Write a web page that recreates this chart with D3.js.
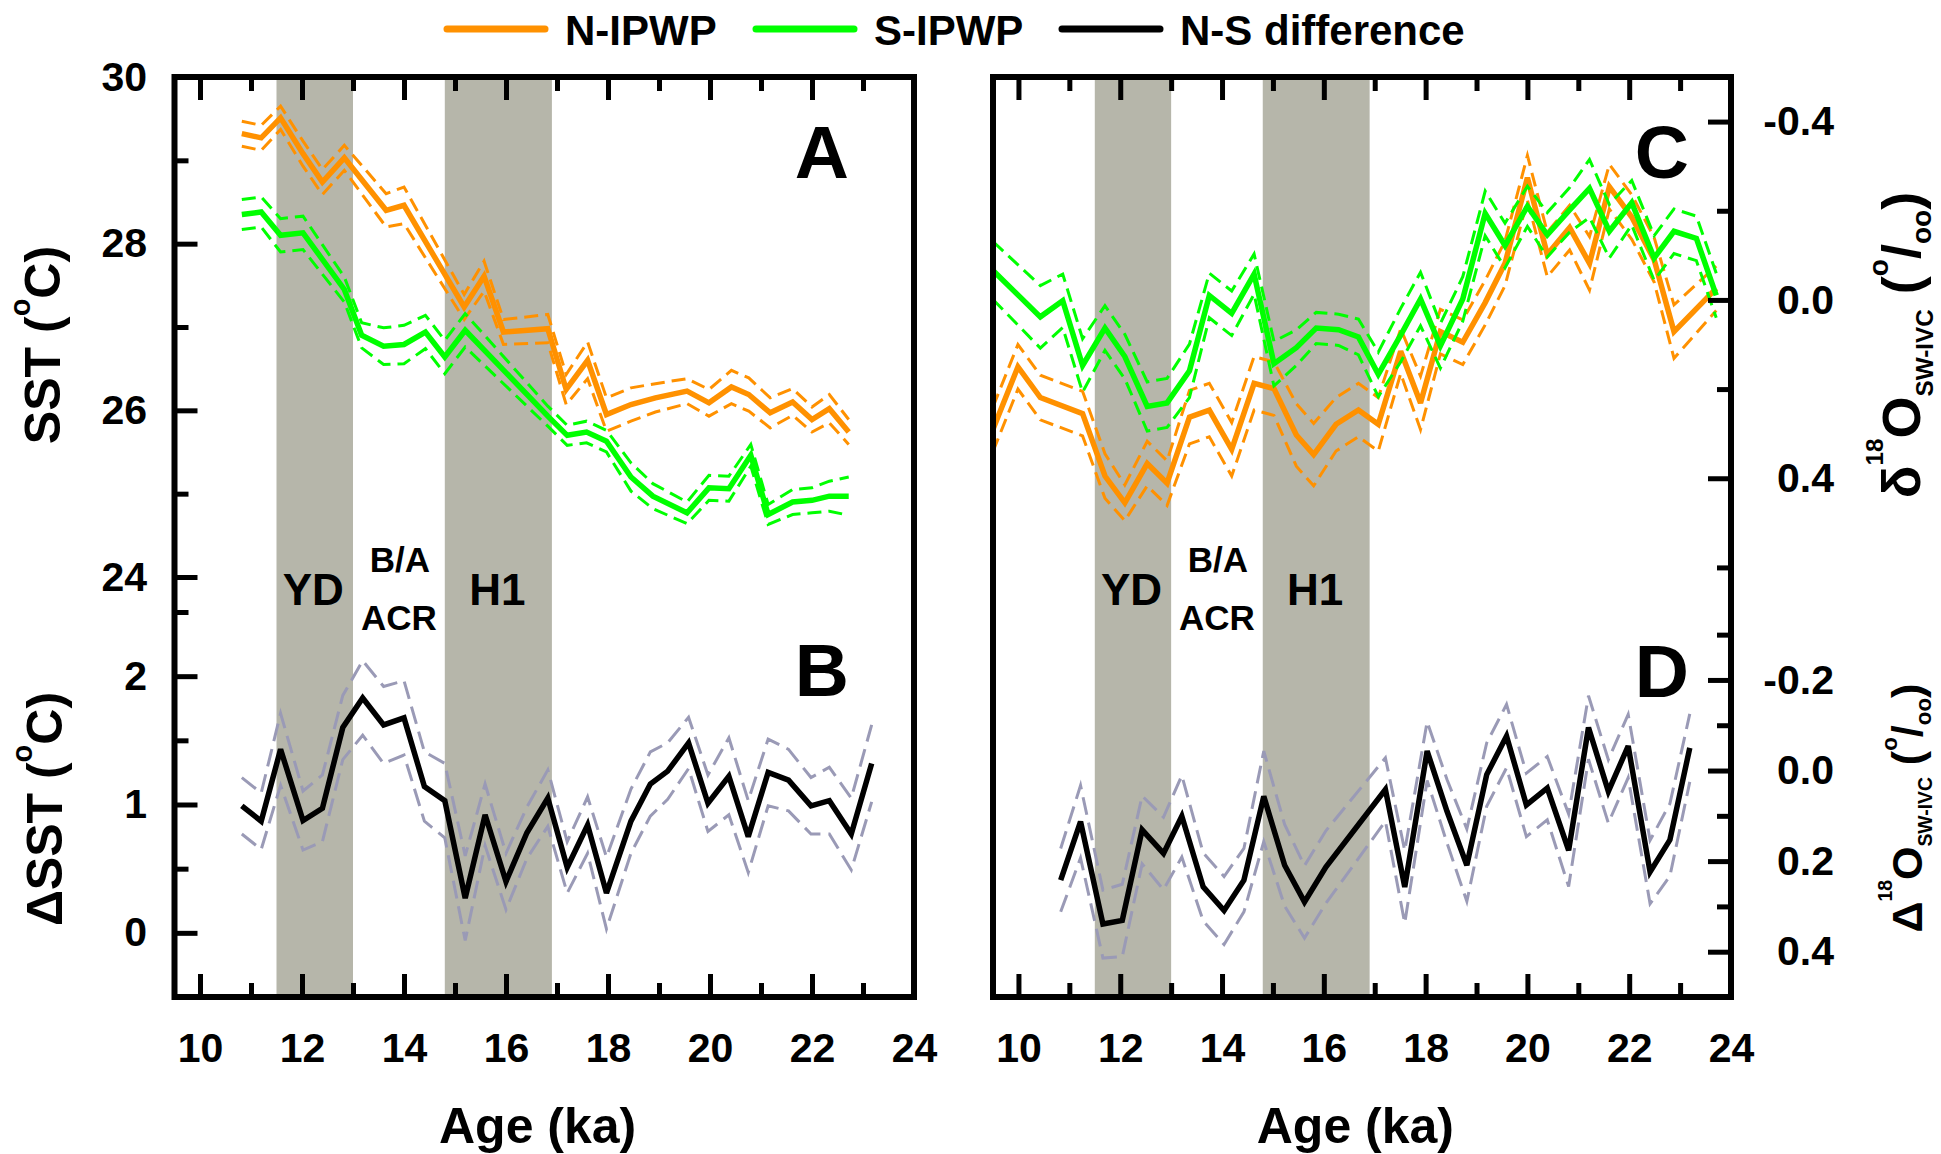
<!DOCTYPE html>
<html>
<head>
<meta charset="utf-8">
<script src="https://cdn.jsdelivr.net/npm/d3@7"></script>
<style>
  body { margin: 0; background: #fff; }
  svg { display: block; }
</style>
</head>
<body>
<svg id="chart" width="1941" height="1154"></svg>
<script>
// ---- values ----

// A: SST (deg C)
const ageSstN = [10.82, 11.20, 11.58, 12.02, 12.40, 12.83, 13.65, 14.00, 15.18, 15.57, 15.95, 16.82, 17.18, 17.60, 17.97, 18.45, 18.93, 19.55, 19.98, 20.42, 20.76, 21.18, 21.62, 22.00, 22.34, 22.72];
const sstN = [29.32, 29.27, 29.51, 29.08, 28.74, 29.03, 28.40, 28.46, 27.24, 27.61, 26.94, 26.98, 26.25, 26.60, 25.95, 26.07, 26.15, 26.23, 26.09, 26.28, 26.19, 25.97, 26.10, 25.89, 26.02, 25.74];
const sstNErr = [0.15, 0.15, 0.14, 0.15, 0.15, 0.15, 0.20, 0.22, 0.15, 0.18, 0.15, 0.17, 0.18, 0.22, 0.20, 0.20, 0.17, 0.15, 0.16, 0.20, 0.20, 0.18, 0.16, 0.15, 0.17, 0.15];

const ageSstS = [10.82, 11.20, 11.58, 12.02, 12.83, 13.17, 13.60, 14.00, 14.42, 14.80, 15.20, 16.82, 17.20, 17.58, 17.97, 18.45, 18.88, 19.55, 19.98, 20.37, 20.80, 21.14, 21.62, 22.00, 22.34, 22.72];
const sstS = [28.35, 28.38, 28.10, 28.13, 27.45, 26.90, 26.77, 26.79, 26.94, 26.64, 26.96, 25.93, 25.70, 25.74, 25.63, 25.20, 24.97, 24.77, 25.07, 25.06, 25.46, 24.75, 24.90, 24.92, 24.97, 24.97];
const sstSErr = [0.18, 0.18, 0.20, 0.20, 0.15, 0.15, 0.22, 0.23, 0.20, 0.20, 0.20, 0.12, 0.12, 0.13, 0.13, 0.17, 0.15, 0.13, 0.15, 0.15, 0.13, 0.12, 0.15, 0.15, 0.18, 0.23];

// B: N-S SST difference
const ageDsst = [10.82, 11.20, 11.58, 12.02, 12.40, 12.80, 13.19, 13.60, 14.00, 14.40, 14.80, 15.20, 15.59, 16.00, 16.41, 16.82, 17.20, 17.60, 17.97, 18.45, 18.83, 19.17, 19.58, 19.96, 20.37, 20.75, 21.14, 21.54, 21.98, 22.34, 22.77, 23.17];
const dsst = [0.99, 0.87, 1.43, 0.875, 0.97, 1.60, 1.83, 1.62, 1.675, 1.14, 1.03, 0.27, 0.92, 0.40, 0.78, 1.05, 0.51, 0.84, 0.31, 0.87, 1.16, 1.26, 1.48, 1.01, 1.22, 0.75, 1.25, 1.19, 0.99, 1.03, 0.77, 1.32];
const dsstErr = [0.22, 0.22, 0.28, 0.23, 0.26, 0.25, 0.29, 0.30, 0.29, 0.27, 0.29, 0.33, 0.24, 0.22, 0.20, 0.22, 0.20, 0.22, 0.28, 0.25, 0.25, 0.22, 0.20, 0.22, 0.30, 0.28, 0.26, 0.24, 0.22, 0.26, 0.28, 0.30];

// C: d18O sw-ivc (permil)
const ageD18N = [9.50, 9.99, 10.43, 11.26, 11.70, 12.09, 12.53, 12.92, 13.36, 13.75, 14.19, 14.63, 15.02, 15.46, 15.80, 16.24, 16.68, 17.07, 17.51, 17.90, 18.29, 18.73, 19.17, 19.56, 20.00, 20.39, 20.83, 21.22, 21.61, 22.05, 22.49, 22.88, 23.71];
const d18N = [0.29, 0.15, 0.219, 0.255, 0.395, 0.455, 0.367, 0.411, 0.263, 0.247, 0.335, 0.187, 0.199, 0.303, 0.347, 0.279, 0.247, 0.279, 0.115, 0.231, 0.071, 0.095, 0.006, -0.082, -0.274, -0.102, -0.162, -0.082, -0.254, -0.186, -0.090, 0.071, -0.026];
const d18NErr = [0.05, 0.05, 0.05, 0.05, 0.05, 0.04, 0.05, 0.05, 0.06, 0.06, 0.06, 0.06, 0.06, 0.07, 0.07, 0.06, 0.06, 0.06, 0.05, 0.06, 0.05, 0.05, 0.05, 0.05, 0.05, 0.05, 0.05, 0.06, 0.05, 0.05, 0.05, 0.06, 0.05];

const ageD18S = [9.50, 10.43, 10.87, 11.26, 11.70, 12.09, 12.53, 12.92, 13.36, 13.75, 14.19, 14.63, 15.02, 15.46, 15.85, 16.29, 16.68, 17.07, 17.51, 17.90, 18.29, 18.73, 19.17, 19.56, 20.00, 20.39, 20.83, 21.22, 21.61, 22.05, 22.49, 22.88, 23.32, 23.71];
const d18S = [-0.066, 0.038, 0.002, 0.147, 0.063, 0.127, 0.239, 0.231, 0.159, -0.010, 0.030, -0.058, 0.143, 0.107, 0.063, 0.067, 0.083, 0.167, 0.079, -0.002, 0.103, -0.002, -0.194, -0.122, -0.210, -0.146, -0.202, -0.250, -0.154, -0.218, -0.094, -0.154, -0.138, -0.010];
const d18SErr = [0.065, 0.07, 0.06, 0.06, 0.05, 0.05, 0.055, 0.055, 0.06, 0.05, 0.05, 0.045, 0.05, 0.04, 0.035, 0.035, 0.04, 0.05, 0.06, 0.06, 0.05, 0.05, 0.05, 0.05, 0.045, 0.05, 0.05, 0.065, 0.06, 0.05, 0.05, 0.05, 0.05, 0.05];

// D: N-S d18O difference
const ageDd18 = [10.83, 11.22, 11.66, 12.04, 12.43, 12.85, 13.21, 13.63, 14.04, 14.43, 14.82, 15.23, 15.62, 16.04, 17.21, 17.59, 18.03, 18.42, 18.81, 19.20, 19.59, 19.98, 20.39, 20.81, 21.20, 21.59, 21.98, 22.41, 22.80, 23.19];
const dd18 = [0.242, 0.113, 0.339, 0.331, 0.131, 0.183, 0.101, 0.257, 0.309, 0.242, 0.057, 0.209, 0.290, 0.213, 0.042, 0.257, -0.043, 0.090, 0.209, 0.009, -0.076, 0.076, 0.039, 0.176, -0.095, 0.046, -0.054, 0.224, 0.153, -0.050];
const dd18Err = [0.07, 0.08, 0.075, 0.08, 0.075, 0.08, 0.09, 0.075, 0.075, 0.07, 0.10, 0.09, 0.08, 0.08, 0.07, 0.08, 0.065, 0.07, 0.08, 0.07, 0.07, 0.07, 0.07, 0.08, 0.07, 0.07, 0.07, 0.07, 0.08, 0.075];

// climate periods (ka)
const periods = [
  { name: "YD", from: 11.5, to: 13.0 },
  { name: "H1", from: 14.8, to: 16.9 },
];

// ticks
const ageTicks = [10, 12, 14, 16, 18, 20, 22, 24];
const ageMinor = [11, 13, 15, 17, 19, 21, 23];
const sstTicks = [24, 26, 28, 30];
const sstMinor = [25, 27, 29];
const dsstTicks = [0, 1, 2];
const dsstMinor = [0.5, 1.5, 2.5];
const d18Ticks = [-0.4, 0, 0.4];
const d18Minor = [-0.2, 0.2, 0.6];
const dd18Ticks = [-0.2, 0, 0.2, 0.4];
const dd18Minor = [-0.3, -0.1, 0.1, 0.3];

const legendItems = ["N-IPWP", "S-IPWP", "N-S difference"];

// ---- style ----
const FONT = '"Liberation Sans", Arial, Helvetica, sans-serif';
const ORANGE = "#ff9100";
const GREEN = "#00ff00";
const ERRGRAY = "#9a9ab6";
const BAND = "#b6b6aa";

const svg = d3.select("#chart").style("font-family", FONT).style("font-weight", "bold");

const frameTop = 77, frameMid = 612, frameBot = 997;
const cols = [
  { x0: 174.5, x1: 914 },
  { x0: 993, x1: 1731 },
];

const xL = d3.scaleLinear().domain([9.5, 24]).range([cols[0].x0, cols[0].x1]);
const xR = d3.scaleLinear().domain([9.5, 24]).range([cols[1].x0, cols[1].x1]);
const yA = d3.scaleLinear().domain([23.58, 30]).range([frameMid, frameTop]);
const yB = d3.scaleLinear().domain([-0.5, 2.5]).range([frameBot, frameMid]);
const yC = d3.scaleLinear().domain([-0.5, 0.7]).range([frameTop, frameMid]);
const yD = d3.scaleLinear().domain([-0.35, 0.5]).range([frameMid, frameBot]);

// shaded periods
[xL, xR].forEach((x) => {
  svg.append("g")
    .selectAll("rect")
    .data(periods)
    .join("rect")
    .attr("x", (d) => x(d.from))
    .attr("width", (d) => x(d.to) - x(d.from))
    .attr("y", frameTop)
    .attr("height", frameBot - frameTop)
    .attr("fill", BAND);
});

function drawSeries(x, y, ages, vals, errs, color, errColor, dash) {
  const rows = ages.map((a, i) => ({ age: a, v: vals[i], e: errs[i] }));
  const g = svg.append("g").attr("fill", "none");
  [-1, 1].forEach((s) => {
    g.append("path")
      .datum(rows)
      .attr("stroke", errColor)
      .attr("stroke-width", 3)
      .attr("stroke-dasharray", dash)
      .attr("d", d3.line().x((d) => x(d.age)).y((d) => y(d.v + s * d.e)));
  });
  g.append("path")
    .datum(rows)
    .attr("stroke", color)
    .attr("stroke-width", 5.5)
    .attr("stroke-linejoin", "miter")
    .attr("stroke-miterlimit", 3)
    .attr("d", d3.line().x((d) => x(d.age)).y((d) => y(d.v)));
}

drawSeries(xL, yA, ageSstN, sstN, sstNErr, ORANGE, ORANGE, "14,7");
drawSeries(xL, yA, ageSstS, sstS, sstSErr, GREEN, GREEN, "14,7");
drawSeries(xL, yB, ageDsst, dsst, dsstErr, "#000", ERRGRAY, "18,8");
drawSeries(xR, yC, ageD18N, d18N, d18NErr, ORANGE, ORANGE, "14,7");
drawSeries(xR, yC, ageD18S, d18S, d18SErr, GREEN, GREEN, "14,7");
drawSeries(xR, yD, ageDd18, dd18, dd18Err, "#000", ERRGRAY, "18,8");

// period labels
[xL, xR].forEach((x) => {
  const g = svg.append("g").attr("text-anchor", "middle").attr("fill", "#000");
  g.append("text").attr("x", x(12.22)).attr("y", 605).style("font-size", "44px").text(periods[0].name);
  g.append("text").attr("x", x(15.83)).attr("y", 605).style("font-size", "44px").text(periods[1].name);
  g.append("text").attr("x", x(13.92)).attr("y", 572).style("font-size", "35px").text("B/A");
  g.append("text").attr("x", x(13.9)).attr("y", 630).style("font-size", "35px").text("ACR");
});

// axes: inward ticks, major and minor
function addAxis(axisFn, scale, values, len, translate, fmt, pad) {
  const ax = axisFn(scale).tickValues(values).tickSize(-len).tickSizeOuter(0)
    .tickPadding(pad || 0).tickFormat(fmt || "");
  const g = svg.append("g").attr("transform", translate).call(ax);
  g.select(".domain").remove();
  g.selectAll(".tick line").attr("stroke", "#000").attr("stroke-width", 5);
  g.selectAll(".tick text")
    .attr("fill", "#000")
    .style("font-size", "41px")
    .style("font-family", FONT)
    .style("font-weight", "bold");
  return g;
}

const num1 = (d) => d.toFixed(1);
const int0 = (d) => String(d);

[xL, xR].forEach((x) => {
  addAxis(d3.axisBottom, x, ageTicks, 23, `translate(0,${frameBot})`, int0, 36);
  addAxis(d3.axisBottom, x, ageMinor, 14, `translate(0,${frameBot})`);
  addAxis(d3.axisTop, x, ageTicks, 23, `translate(0,${frameTop})`);
  addAxis(d3.axisTop, x, ageMinor, 14, `translate(0,${frameTop})`);
});

addAxis(d3.axisLeft, yA, sstTicks, 23, `translate(${cols[0].x0},0)`, int0, 27.5);
addAxis(d3.axisLeft, yA, sstMinor, 14, `translate(${cols[0].x0},0)`);
addAxis(d3.axisLeft, yB, dsstTicks, 23, `translate(${cols[0].x0},0)`, int0, 27.5);
addAxis(d3.axisLeft, yB, dsstMinor, 14, `translate(${cols[0].x0},0)`);

[
  [yC, d18Ticks, d18Minor],
  [yD, dd18Ticks, dd18Minor],
].forEach(([y, major, minor]) => {
  addAxis(d3.axisRight, y, major, 23, `translate(${cols[1].x1},0)`, num1, 0)
    .selectAll(".tick text")
    .attr("x", 103)
    .attr("text-anchor", "end");
  addAxis(d3.axisRight, y, minor, 14, `translate(${cols[1].x1},0)`);
});

// frames
cols.forEach((c) => {
  svg.append("rect")
    .attr("x", c.x0)
    .attr("y", frameTop)
    .attr("width", c.x1 - c.x0)
    .attr("height", frameBot - frameTop)
    .attr("fill", "none")
    .attr("stroke", "#000")
    .attr("stroke-width", 6);
});

// panel letters
const letters = svg.append("g").attr("text-anchor", "end").style("font-size", "75px");
letters.append("text").attr("x", cols[0].x1 - 65).attr("y", 178).text("A");
letters.append("text").attr("x", cols[0].x1 - 65).attr("y", 696).text("B");
letters.append("text").attr("x", cols[1].x1 - 42).attr("y", 178).text("C");
letters.append("text").attr("x", cols[1].x1 - 42).attr("y", 697).text("D");

// axis titles
[xL, xR].forEach((x) => {
  svg.append("text")
    .attr("x", x(16.62))
    .attr("y", 1143)
    .attr("text-anchor", "middle")
    .style("font-size", "50px")
    .text("Age (ka)");
});

// rotated title built from pieces; shift in em of the base size (+ is down)
function richLabel(cx, cy, size, parts) {
  const t = svg.append("text")
    .attr("transform", `translate(${cx},${cy}) rotate(-90)`)
    .attr("text-anchor", "middle")
    .style("font-size", size + "px");
  let prev = 0;
  parts.forEach((p) => {
    const s = p.shift || 0;
    t.append("tspan")
      .style("font-size", (p.k || 1) * size + "px")
      .attr("dy", (s - prev) * size)
      .text(p.t);
    prev = s;
  });
}

const degC = [
  { t: "SST (" },
  { t: "o", k: 0.58, shift: -0.6 },
  { t: "C)" },
];
richLabel(60, 345, 50, degC);
richLabel(62, 809, 50, [{ t: "\u0394" }].concat(degC));

function isoParts(sym) {
  return [
    { t: sym },
    { t: "18", k: 0.45, shift: -0.69 },
    { t: "O" },
    { t: "SW-IVC", k: 0.45, shift: 0.24 },
    { t: " (" },
    { t: "o", k: 0.52, shift: -0.59 },
    { t: "/" },
    { t: "oo", k: 0.52, shift: 0.2 },
    { t: ")" },
  ];
}
richLabel(1920, 345, 54, isoParts("\u03b4"));
richLabel(1922, 808, 43, isoParts("\u0394"));

// legend
const legend = svg.append("g")
  .selectAll("g")
  .data(legendItems)
  .join("g")
  .attr("transform", (d, i) => `translate(${[447, 756, 1062][i]},0)`);
legend.append("line")
  .attr("x1", 0).attr("x2", 98)
  .attr("y1", 29).attr("y2", 29)
  .attr("stroke", (d, i) => [ORANGE, GREEN, "#000"][i])
  .attr("stroke-width", 7)
  .attr("stroke-linecap", "round");
legend.append("text")
  .attr("x", 118)
  .attr("y", 45)
  .style("font-size", "42px")
  .text((d) => d);
</script>
</body>
</html>
